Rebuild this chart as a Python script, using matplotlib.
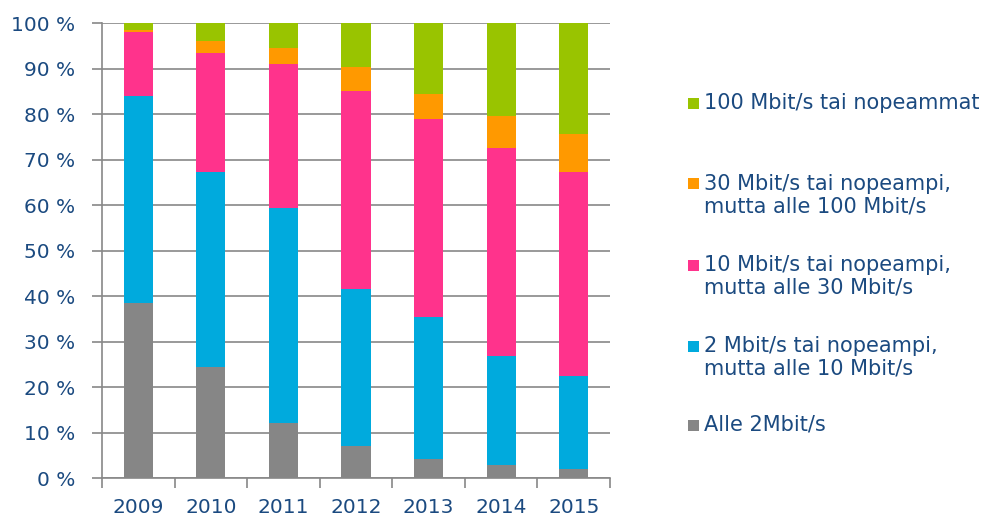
import matplotlib
matplotlib.use("Agg")
import matplotlib.pyplot as plt
from matplotlib.patches import Rectangle
import numpy as np

years = ["2009", "2010", "2011", "2012", "2013", "2014", "2015"]
alle2 = [38.5, 24.4, 12.1, 7.2, 4.2, 2.9, 2.0]
m2_10 = [45.6, 43.0, 47.4, 34.4, 31.3, 24.0, 20.5]
m10_30 = [14.0, 26.1, 31.6, 43.6, 43.5, 45.8, 44.9]
m30_100 = [0.4, 2.6, 3.5, 5.2, 5.5, 7.0, 8.3]
m100 = [1.5, 3.9, 5.4, 9.6, 15.5, 20.3, 24.3]

series = [alle2, m2_10, m10_30, m30_100, m100]
colors = ["#868686", "#00AADD", "#FF338C", "#FF9900", "#99C400"]
labels = ["Alle 2Mbit/s",
          "2 Mbit/s tai nopeampi,\nmutta alle 10 Mbit/s",
          "10 Mbit/s tai nopeampi,\nmutta alle 30 Mbit/s",
          "30 Mbit/s tai nopeampi,\nmutta alle 100 Mbit/s",
          "100 Mbit/s tai nopeammat"]
yticks = [0, 10, 20, 30, 40, 50, 60, 70, 80, 90, 100]
ytick_labels = [f"{v} %" for v in yticks]

text_color = "#1B4A80"
grid_color = "#888888"

W, H = 1003, 532
fig = plt.figure(figsize=(W / 100, H / 100), dpi=100)
ax = fig.add_axes([102 / W, 1 - 478.3 / H, (610 - 102) / W, (478.3 - 23.3) / H])

x = np.arange(len(years))
bottom = np.zeros(len(years))
for vals, c in zip(series, colors):
    ax.bar(x, vals, bottom=bottom, width=0.4, color=c, zorder=3, linewidth=0)
    bottom += np.array(vals)

ax.set_xlim(-0.5, len(years) - 0.5)
ax.set_ylim(0, 100)
ax.set_yticks(yticks)
ax.set_yticklabels(ytick_labels)
ax.yaxis.grid(True, color=grid_color, linewidth=1.2, zorder=0)
ax.set_axisbelow(True)

ax.set_xticks(x)
ax.set_xticklabels(years)
ax.set_xticks(np.arange(-0.5, len(years)), minor=True)
ax.tick_params(axis="x", which="major", length=0, pad=14, labelsize=14.5, labelcolor=text_color)
ax.tick_params(axis="x", which="minor", length=7, width=1.2, color=grid_color, direction="out")
ax.tick_params(axis="y", which="major", length=7, width=1.2, color=grid_color, direction="out",
               pad=12, labelsize=14.5, labelcolor=text_color)

for s in ["top", "right"]:
    ax.spines[s].set_visible(False)
for s in ["left", "bottom"]:
    ax.spines[s].set_color(grid_color)
    ax.spines[s].set_linewidth(1.2)

# Legend (manual, right side): (series index, marker y, text block center y)
entries = [(4, 103, 103), (3, 183, 195.5), (2, 265, 276.5), (1, 346, 357.5), (0, 425, 425)]
for idx, ym, yt in entries:
    sq = 11
    fig.add_artist(Rectangle((688 / W, 1 - (ym + sq / 2) / H), sq / W, sq / H,
                             transform=fig.transFigure, facecolor=colors[idx],
                             edgecolor="none"))
    fig.text(704 / W, 1 - yt / H, labels[idx], color=text_color, fontsize=15,
             va="center", ha="left", linespacing=1.15)

fig.savefig("out.png", dpi=100)
